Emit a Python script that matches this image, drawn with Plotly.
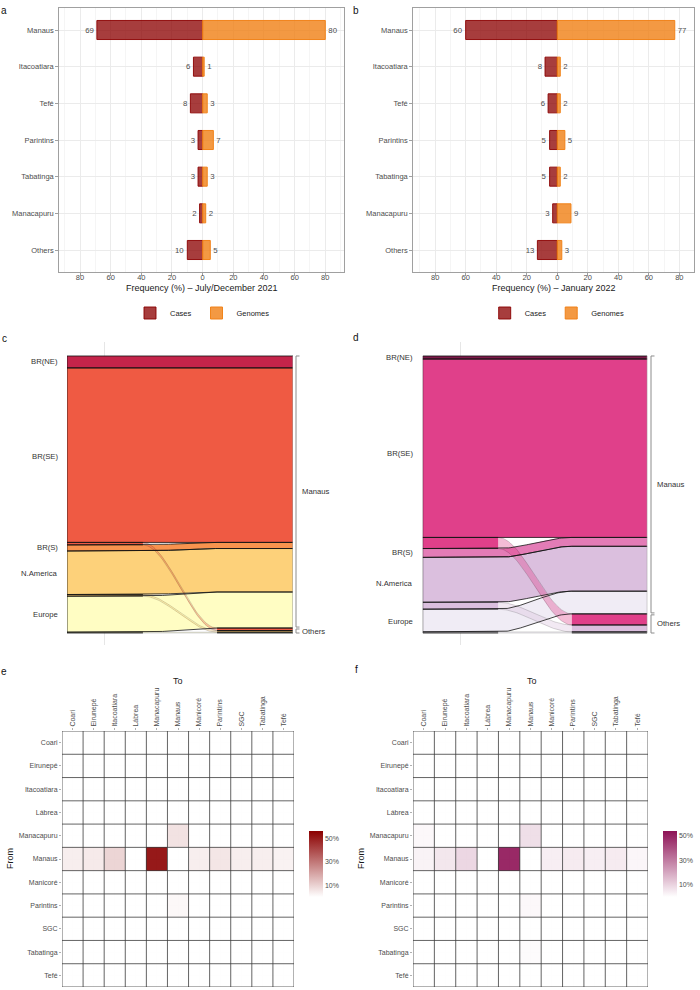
import numpy as np
import plotly.graph_objects as go

W, H = 700, 990
FONT = "Liberation Sans, Arial, Helvetica, sans-serif"
GREY = "#4D4D4D"

# ---------------- data: panels a / b ----------------
places = ["Manaus", "Itacoatiara", "Tefé", "Parintins", "Tabatinga", "Manacapuru", "Others"]
cases_a = [69, 6, 8, 3, 3, 2, 10]
genomes_a = [80, 1, 3, 7, 3, 2, 5]
cases_b = [60, 8, 6, 5, 5, 3, 13]
genomes_b = [77, 2, 2, 5, 2, 9, 3]
freq_ticks = [-80, -60, -40, -20, 0, 20, 40, 60, 80]
freq_ticktext = ["80", "60", "40", "20", "0", "20", "40", "60", "80"]

# ---------------- data: panels c / d (alluvial, % of introductions) ----------------
origins = ["BR(NE)", "BR(SE)", "BR(S)", "N.America", "Europe"]
dests = ["Manaus", "Others"]
c_to_manaus = [4.3, 63.0, 2.2, 15.7, 13.0]
c_to_others = [0.0, 0.9, 0.0, 0.6, 0.3]
d_to_manaus = [1.1, 64.4, 3.2, 16.2, 8.2]
d_to_others = [0.0, 4.0, 0.0, 2.5, 0.4]
c_colors = ["#C4244A", "#EF5A43", "#F8934E", "#FDD17A", "#FFFDC3"]
d_colors = ["#7D1A4A", "#E0408A", "#E37CB6", "#DBBFDE", "#F0ECF5"]

# ---------------- data: panels e / f (heatmaps, %) ----------------
towns = ["Coari", "Eirunepé", "Itacoatiara", "Lábrea", "Manacapuru", "Manaus",
         "Manicoré", "Parintins", "SGC", "Tabatinga", "Tefé"]
e_values = [
    [0, 0, 0, 0, 0, 0, 0, 0, 0, 0, 0],
    [0, 0, 0, 0, 0, 0, 0, 0, 0, 0, 0],
    [0, 0, 0, 0, 0, 0, 0, 0, 0, 0, 0],
    [0, 0, 0, 0, 0, 0, 0, 0, 0, 0, 0],
    [0, 0, 0, 0, 0, 7, 0, 0, 0, 0, 0],
    [4, 5, 10, 0, 56, 0, 4, 6, 4, 4, 3],
    [0, 0, 0, 0, 0, 0, 0, 0, 0, 0, 0],
    [0, 0, 0, 0, 0, 1.5, 0, 0, 0, 0, 0],
    [0, 0, 0, 0, 0, 0, 0, 0, 0, 0, 0],
    [0, 0, 0, 0, 0, 0, 0, 0, 0, 0, 0],
    [0, 0, 0, 0, 0, 0, 0, 0, 0, 0, 0],
]
f_values = [
    [0, 0, 0, 0, 0, 0, 0, 0, 0, 0, 0],
    [0, 0, 0, 0, 0, 0, 0, 0, 0, 0, 0],
    [0, 0, 0, 0, 0, 0, 0, 0, 0, 0, 0],
    [0, 0, 0, 0, 0, 0, 0, 0, 0, 0, 0],
    [1.5, 0, 0, 0, 0, 8, 0, 0, 0, 0, 0],
    [3, 6, 10, 0, 54, 0, 4, 5, 4, 5, 2],
    [0, 0, 0, 0, 0, 0, 0, 0, 0, 0, 0],
    [0, 0, 0, 0, 0, 1.5, 0, 0, 0, 0, 0],
    [0, 0, 0, 0, 0, 0, 0, 0, 0, 0, 0],
    [0, 0, 0, 0, 0, 1, 0, 0, 0, 0, 0],
    [0, 0, 0, 0, 0, 0, 0, 0, 0, 0, 0],
]
pct_ticks = [10, 30, 50]
pct_ticktext = ["10%", "30%", "50%"]


def xd(a, b):
    return [a / W, b / W]


def yd(top, bottom):
    return [1 - bottom / H, 1 - top / H]


def px(v):
    return v / W


def py(v):
    return 1 - v / H


def rgba(hexc, a):
    hexc = hexc.lstrip("#")
    r, g, b = int(hexc[0:2], 16), int(hexc[2:4], 16), int(hexc[4:6], 16)
    return f"rgba({r},{g},{b},{a})"


fig = go.Figure()
layout = dict(
    template="none",
    width=W, height=H, margin=dict(l=0, r=0, t=0, b=0, autoexpand=False),
    paper_bgcolor="white", plot_bgcolor="white",
    font=dict(family=FONT, color=GREY),
    showlegend=True,
)
annotations = []
shapes = []

# ---------------- panels a, b: mirrored bars ----------------
bar_panels = [
    dict(cases=cases_a, genomes=genomes_a, xa="x", ya="y", xk="xaxis", yk="yaxis", leg="legend",
         xdom=(59.3, 344.3), xr=[-93.5, 92.4], title="Frequency (%) \u2013 July/December 2021", zero=202.5),
    dict(cases=cases_b, genomes=genomes_b, xa="x2", ya="y2", xk="xaxis2", yk="yaxis2", leg="legend2",
         xdom=(413.3, 694.3), xr=[-94.3, 89.8], title="Frequency (%) \u2013 January 2022", zero=557.2),
]
for p in bar_panels:
    fig.add_trace(go.Bar(
        y=places, x=[-v for v in p["cases"]], orientation="h", name="Cases",
        marker=dict(color="rgba(139,0,0,0.76)", line=dict(color="rgba(139,0,0,0.9)", width=1)),
        width=0.52, text=[str(v) for v in p["cases"]], textposition="outside",
        cliponaxis=False, constraintext="none",
        textfont=dict(size=7.8, color=GREY), xaxis=p["xa"], yaxis=p["ya"],
        legend=p["leg"], hoverinfo="skip"))
    fig.add_trace(go.Bar(
        y=places, x=p["genomes"], orientation="h", name="Genomes",
        marker=dict(color="rgba(240,128,20,0.8)", line=dict(color="rgba(240,128,20,0.95)", width=1)),
        width=0.52, text=[str(v) for v in p["genomes"]], textposition="outside",
        cliponaxis=False, constraintext="none",
        textfont=dict(size=7.8, color=GREY), xaxis=p["xa"], yaxis=p["ya"],
        legend=p["leg"], hoverinfo="skip"))
    layout[p["xk"]] = dict(
        domain=xd(*p["xdom"]), anchor=p["ya"], range=p["xr"],
        tickmode="array", tickvals=freq_ticks, ticktext=freq_ticktext,
        showgrid=True, gridcolor="#EBEBEB", gridwidth=0.8,
        minor=dict(tickmode="array", tickvals=[-90, -70, -50, -30, -10, 10, 30, 50, 70, 90],
                   showgrid=True, gridcolor="#F5F5F5", gridwidth=0.5),
        zeroline=False, showline=True, mirror=True, linecolor="#A0A0A0", linewidth=1,
        ticks="outside", ticklen=3, tickcolor="#A0A0A0", ticklabelstandoff=-5,
        tickfont=dict(size=7.5, color=GREY), automargin=False)
    layout[p["yk"]] = dict(
        domain=yd(8, 272), anchor=p["xa"], type="category",
        categoryorder="array", categoryarray=places, range=[6.6, -0.6],
        showgrid=True, gridcolor="#EBEBEB", gridwidth=0.8, zeroline=False,
        showline=True, mirror=True, linecolor="#A0A0A0", linewidth=1,
        ticks="outside", ticklen=3, tickcolor="#A0A0A0",
        tickfont=dict(size=7.5, color=GREY), automargin=False)
    cx = (p["xdom"][0] + p["xdom"][1]) / 2
    annotations.append(dict(text=p["title"], x=px(cx), y=py(288), xref="paper", yref="paper",
                            showarrow=False, xanchor="center", yanchor="middle",
                            font=dict(size=9, color="#1A1A1A")))
    layout[p["leg"]] = dict(orientation="h", x=px(p["zero"]), xanchor="center",
                            y=py(313), yanchor="middle", font=dict(size=7.5, color="#1A1A1A"),
                            itemwidth=30, bgcolor="rgba(0,0,0,0)", traceorder="normal")

# ---------------- panels c, d: alluvial ----------------
HW = 0.253


def smooth(t):
    return 3 * t ** 2 - 2 * t ** 3


def alluvial(to_m, to_o, colors, xa, ya, xk, yk, xdom, lab_x, brk_x):
    vals = [to_m, to_o]
    n = len(origins)
    total = sum(to_m) + sum(to_o)
    xl0, xl1, xr0, xr1 = 1 - HW, 1 + HW, 2 - HW, 2 + HW
    left, right = {}, {}
    y = total
    for i in range(n):
        for j in range(2):
            v = vals[j][i]
            left[(i, j)] = (y, y - v)
            y -= v
    y = total
    for j in range(2):
        for i in range(n):
            v = vals[j][i]
            right[(i, j)] = (y, y - v)
            y -= v
    t = np.linspace(0, 1, 50)
    xm = xl1 + (xr0 - xl1) * t
    black_x, black_y, faint_x, faint_y = [], [], [], []
    for j in (0, 1):
        for i in range(n):
            v = vals[j][i]
            if v <= 0:
                continue
            lt, lb = left[(i, j)]
            rt, rb = right[(i, j)]
            top = lt + (rt - lt) * smooth(t)
            bot = lb + (rb - lb) * smooth(t)
            col = colors[i]
            if j == 0:
                xs = [xl0] + list(xm) + [xr1, xr1] + list(xm[::-1]) + [xl0]
                ys = [lt] + list(top) + [rt, rb] + list(bot[::-1]) + [lb]
                fig.add_trace(go.Scatter(x=xs, y=ys, fill="toself", fillcolor=col, mode="none",
                                         xaxis=xa, yaxis=ya, showlegend=False, hoverinfo="skip"))
                for arr in (top, bot):
                    y0, y1 = arr[0], arr[-1]
                    black_x += [xl0] + list(xm) + [xr1, None]
                    black_y += [y0] + list(arr) + [y1, None]
            else:
                xs = list(xm) + list(xm[::-1])
                ys = list(top) + list(bot[::-1])
                fig.add_trace(go.Scatter(x=xs, y=ys, fill="toself", fillcolor=rgba(col, 0.35),
                                         mode="none", xaxis=xa, yaxis=ya, showlegend=False,
                                         hoverinfo="skip"))
                for (a0, a1, yt, yb) in ((xl0, xl1, lt, lb), (xr0, xr1, rt, rb)):
                    fig.add_trace(go.Scatter(x=[a0, a1, a1, a0, a0], y=[yt, yt, yb, yb, yt],
                                             fill="toself", fillcolor=col, mode="none",
                                             xaxis=xa, yaxis=ya, showlegend=False,
                                             hoverinfo="skip"))
                    for yy in (yt, yb):
                        black_x += [a0, a1, None]
                        black_y += [yy, yy, None]
                for arr in (top, bot):
                    faint_x += list(xm) + [None]
                    faint_y += list(arr) + [None]
    black_x += [xl0, xl0, None]
    black_y += [0, total, None]
    fig.add_trace(go.Scatter(x=faint_x, y=faint_y, mode="lines",
                             line=dict(color="rgba(0,0,0,0.22)", width=0.7),
                             xaxis=xa, yaxis=ya, showlegend=False, hoverinfo="skip"))
    fig.add_trace(go.Scatter(x=black_x, y=black_y, mode="lines",
                             line=dict(color="#111111", width=0.8),
                             xaxis=xa, yaxis=ya, showlegend=False, hoverinfo="skip"))
    fig.add_trace(go.Scatter(x=[xr1, xr1], y=[0, total], mode="lines",
                             line=dict(color="#9A9A9A", width=1),
                             xaxis=xa, yaxis=ya, showlegend=False, hoverinfo="skip"))
    layout[xk] = dict(domain=xd(*xdom), anchor=ya, range=[xl0, xr1], tickmode="array",
                      tickvals=[1], showticklabels=False, showgrid=True, gridcolor="#E6E6E6",
                      zeroline=False, showline=False, ticks="")
    layout[yk] = dict(domain=yd(342, 645), anchor=xa, range=[-4.33, 105.05], visible=False)
    for i, o in enumerate(origins):
        yt = left[(i, 0)][0]
        yb = left[(i, 1)][1]
        annotations.append(dict(text=o, x=px(lab_x), y=(yt + yb) / 2, xref="paper", yref=ya,
                                showarrow=False, xanchor="right", yanchor="middle",
                                font=dict(size=7.7, color="#333333")))
    m_bot = total - sum(to_m)
    spans = [(total, m_bot + 0.35), (m_bot - 0.35, 0)]
    for d, (ytop, ybot) in zip(dests, spans):
        path = (f"M {px(brk_x + 3.5)},{ytop} L {px(brk_x)},{ytop} "
                f"L {px(brk_x)},{ybot} L {px(brk_x + 3.5)},{ybot}")
        shapes.append(dict(type="path", path=path, xref="paper", yref=ya,
                           line=dict(color="#8C8C8C", width=1)))
        annotations.append(dict(text=d, x=px(brk_x + 4), y=(ytop + ybot) / 2, xref="paper",
                                yref=ya, showarrow=False, xanchor="left", yanchor="middle",
                                font=dict(size=7.7, color="#333333")))


alluvial(c_to_manaus, c_to_others, c_colors, "x3", "y3", "xaxis3", "yaxis3", (67, 293), 60, 296)
alluvial(d_to_manaus, d_to_others, d_colors, "x4", "y4", "xaxis4", "yaxis4", (422.7, 647.3), 415, 651)

# ---------------- panels e, f: heatmaps ----------------
heat_panels = [
    dict(z=e_values, xa="x5", ya="y5", xk="xaxis5", yk="yaxis5", xdom=(62, 294),
         scale=[[0, "#FFFFFF"], [1, "#8B0000"]], cbx=309, to_x=178, from_x=10),
    dict(z=f_values, xa="x6", ya="y6", xk="xaxis6", yk="yaxis6", xdom=(413, 648),
         scale=[[0, "#FFFFFF"], [1, "#8E1256"]], cbx=663, to_x=532, from_x=361),
]
for p in heat_panels:
    zmax = max(max(r) for r in p["z"])
    fig.add_trace(go.Heatmap(
        z=p["z"], x=towns, y=towns, colorscale=p["scale"], zmin=0, zmax=zmax,
        opacity=0.9, xaxis=p["xa"], yaxis=p["ya"], hoverinfo="skip",
        colorbar=dict(x=px(p["cbx"]), xanchor="left", y=py(864), yanchor="middle",
                      thickness=14, thicknessmode="pixels", len=66, lenmode="pixels",
                      tickmode="array", tickvals=pct_ticks, ticktext=pct_ticktext,
                      ticks="", outlinewidth=0, tickfont=dict(size=7, color=GREY),
                      xpad=0, ypad=0)))
    common = dict(type="category", categoryorder="array", categoryarray=towns,
                  showgrid=True, gridcolor="#EEEEEE", gridwidth=0.6, zeroline=False,
                  showline=False, ticks="outside", ticklen=2, tickcolor="#B0B0B0",
                  tickfont=dict(size=7, color=GREY), automargin=False)
    layout[p["xk"]] = dict(domain=xd(*p["xdom"]), anchor=p["ya"], side="top", tickangle=-90,
                           range=[-0.5, len(towns) - 0.5], **common)
    layout[p["yk"]] = dict(domain=yd(731, 987), anchor=p["xa"],
                           range=[len(towns) - 0.5, -0.5], **common)
    for k in range(len(towns) + 1):
        b = k - 0.5
        shapes.append(dict(type="line", xref=p["xa"], yref=p["ya"], x0=b, x1=b,
                           y0=-0.5, y1=len(towns) - 0.5, layer="above",
                           line=dict(color="#3C3C3C", width=0.8)))
        shapes.append(dict(type="line", xref=p["xa"], yref=p["ya"], y0=b, y1=b,
                           x0=-0.5, x1=len(towns) - 0.5, layer="above",
                           line=dict(color="#3C3C3C", width=0.8)))
    annotations.append(dict(text="To", x=px(p["to_x"]), y=py(681), xref="paper", yref="paper",
                            showarrow=False, xanchor="center", yanchor="middle",
                            font=dict(size=9, color="#1A1A1A")))
    annotations.append(dict(text="From", x=px(p["from_x"]), y=py(859), xref="paper",
                            yref="paper", showarrow=False, xanchor="center", yanchor="middle",
                            textangle=-90, font=dict(size=9, color="#1A1A1A")))

for letter, xx, yy in [("a", 4, 11), ("b", 356, 11), ("c", 4, 338), ("d", 356, 337),
                       ("e", 4, 671), ("f", 356, 669)]:
    annotations.append(dict(text=letter, x=px(xx), y=py(yy), xref="paper", yref="paper",
                            showarrow=False, xanchor="center", yanchor="middle",
                            font=dict(size=10, color="#111111")))

layout["annotations"] = annotations
layout["shapes"] = shapes
layout["barmode"] = "overlay"
fig.update_layout(**layout)
fig.write_html("out.html", config={"displayModeBar": False},
               post_script="document.body.style.margin='0';document.body.style.overflow='hidden';")
